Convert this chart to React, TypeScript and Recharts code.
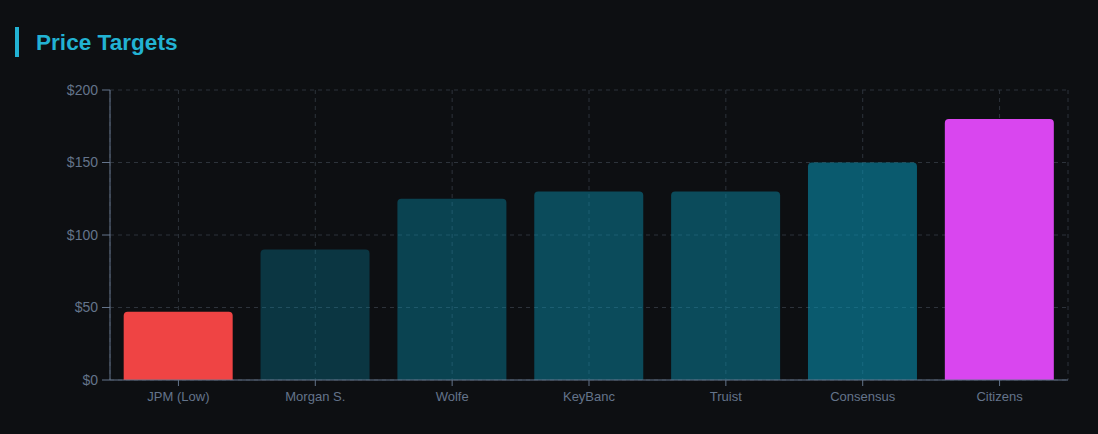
import { Bar, BarChart, CartesianGrid, Cell, XAxis, YAxis } from 'recharts'

const firms = ['JPM (Low)', 'Morgan S.', 'Wolfe', 'KeyBanc', 'Truist', 'Consensus', 'Citizens']
const targets = [47, 90, 125, 130, 130, 150, 180]
const barColors = ['#ef4444', '#0891b2', '#0891b2', '#0891b2', '#0891b2', '#0891b2', '#d946ef']
const barOpacity = [1, 0.3, 0.4, 0.46, 0.46, 0.58, 1]
const yTicks = [0, 50, 100, 150, 200]

const data = firms.map((firm, i) => ({ firm, target: targets[i] }))

const tickStyle = { fill: '#64748b', fontSize: 13, fontFamily: 'Liberation Sans, Arial, sans-serif' }

export default function App() {
  return (
    <div
      style={{
        position: 'absolute',
        left: 0,
        top: 0,
        width: 1098,
        height: 434,
        background: '#0d0f12',
        overflow: 'hidden',
      }}
    >
      <div style={{ position: 'absolute', left: 15, top: 27, width: 4, height: 30, background: '#22b2d3' }} />
      <div
        style={{
          position: 'absolute',
          left: 36,
          top: 28,
          fontFamily: 'Liberation Sans, Arial, sans-serif',
          fontWeight: 700,
          fontSize: 22.6,
          lineHeight: '29px',
          color: '#22b2d3',
        }}
      >
        Price Targets
      </div>
      <BarChart
        width={1098}
        height={434}
        data={data}
        margin={{ top: 90, right: 30, left: 0, bottom: 24 }}
        barCategoryGap="10%"
      >
        <CartesianGrid stroke="#2d333b" strokeDasharray="4 4" />
        <XAxis
          dataKey="firm"
          height={30}
          tick={tickStyle}
          tickMargin={6}
          stroke="#64748b"
          tickLine={{ stroke: '#64748b' }}
        />
        <YAxis
          width={110}
          domain={[0, 200]}
          ticks={yTicks}
          tickFormatter={(v: number) => `$${v}`}
          tick={{ ...tickStyle, fontSize: 14 }}
          tickSize={8}
          tickMargin={4}
          stroke="#64748b"
        />
        <Bar dataKey="target" radius={[4, 4, 0, 0]} isAnimationActive={false}>
          {data.map((d, i) => (
            <Cell key={d.firm} fill={barColors[i]} fillOpacity={barOpacity[i]} />
          ))}
        </Bar>
      </BarChart>
    </div>
  )
}
